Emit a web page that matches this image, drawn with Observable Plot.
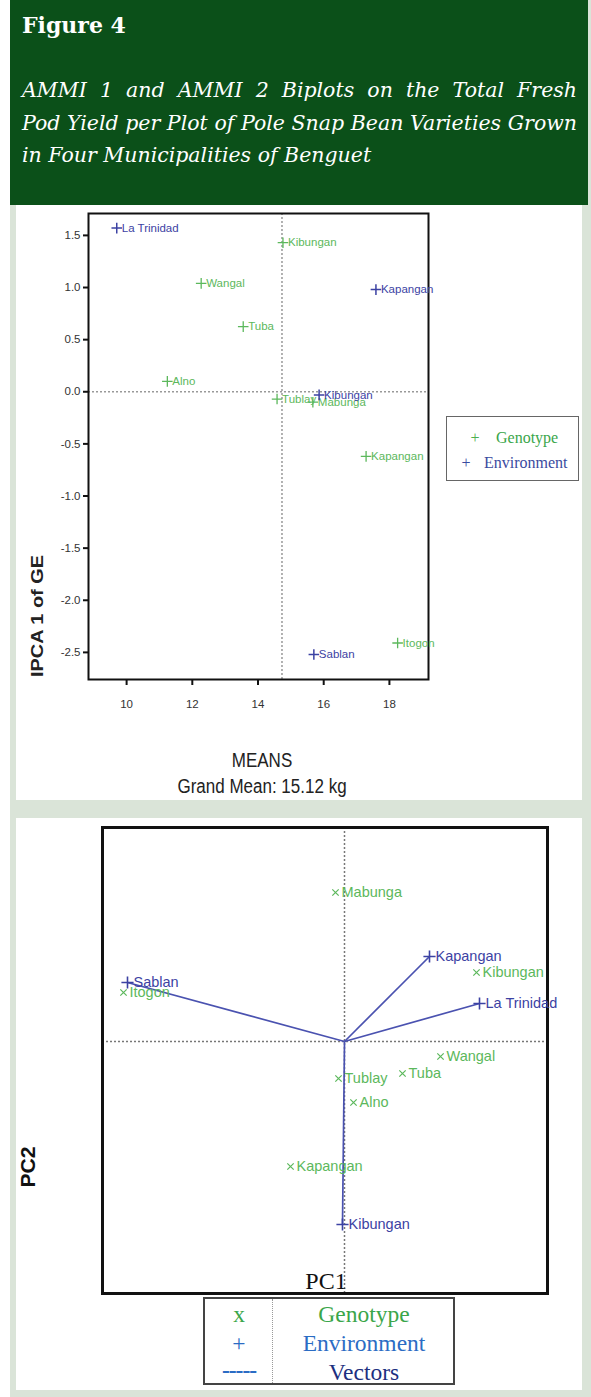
<!DOCTYPE html>
<html><head><meta charset="utf-8">
<script src="https://cdn.jsdelivr.net/npm/d3@7"></script>
<script src="https://cdn.jsdelivr.net/npm/@observablehq/plot@0.6"></script>
<style>
body{margin:0;background:#fff;}
#page{position:relative;width:591px;height:1397px;overflow:hidden;background:#fff;}
.abs{position:absolute;}
.jl{text-align:justify;text-align-last:justify;white-space:nowrap;}
.sans{font-family:'Liberation Sans',Arial,sans-serif;}
.serif{font-family:'Liberation Serif','Times New Roman',serif;}
</style></head><body>
<div id="page">
  <div class="abs" style="left:10px;top:0;width:581px;height:1397px;background:#dae4d8"></div>
  <div class="abs" style="left:10px;top:0;width:578px;height:205px;background:#0b5019;color:#fff;">
    <div class="abs" style="left:12px;top:12px;font:bold 22px 'DejaVu Serif',serif;">Figure 4</div>
    <div class="abs" style="left:12px;top:74px;width:555px;font:italic 20.5px/32.5px 'DejaVu Serif',serif;">
      <div class="jl">AMMI 1 and AMMI 2 Biplots on the Total Fresh</div>
      <div class="jl">Pod Yield per Plot of Pole Snap Bean Varieties Grown</div>
      <div style="white-space:nowrap">in Four Municipalities of Benguet</div>
    </div>
  </div>
  <div class="abs" id="p1" style="left:16px;top:205px;width:566px;height:595px;background:#fff"></div>
  <div class="abs" id="p2" style="left:16px;top:818px;width:566px;height:572px;background:#fff"></div>

  <svg class="abs" style="left:17px;top:541px;overflow:visible" width="40" height="150">
    <text x="20" y="75" transform="rotate(-90 20 75)" text-anchor="middle" dominant-baseline="central"
      textLength="122" lengthAdjust="spacingAndGlyphs"
      style="font-family:'Liberation Sans',Arial,sans-serif;font-size:16px;font-weight:600;fill:#222">IPCA 1 of GE</text>
  </svg>
  <div class="abs sans" style="left:262px;top:760px;transform:translate(-50%,-50%) scaleX(0.85);font-size:20px;color:#222;white-space:nowrap;">MEANS</div>
  <div class="abs sans" style="left:262px;top:786px;transform:translate(-50%,-50%) scaleX(0.85);font-size:20px;color:#222;white-space:nowrap;">Grand Mean: 15.12 kg</div>

  <div class="abs serif" style="left:446px;top:416px;width:131px;height:63px;border:1.5px solid #666;background:#fff;font-size:16px;">
    <div class="abs" style="left:28px;top:21px;transform:translate(-50%,-50%);color:#4caf50;">+</div>
    <div class="abs" style="left:49px;top:21px;transform:translateY(-50%);color:#3aa64a;">Genotype</div>
    <div class="abs" style="left:19px;top:46px;transform:translate(-50%,-50%);color:#3a4aa0;">+</div>
    <div class="abs" style="left:37px;top:46px;transform:translateY(-50%);color:#3a4aa0;">Environment</div>
  </div>

  <svg class="abs" style="left:7px;top:1092px;overflow:visible" width="40" height="150">
    <text x="20" y="75" transform="rotate(-90 20 75)" text-anchor="middle" dominant-baseline="central"
      textLength="41" lengthAdjust="spacingAndGlyphs"
      style="font-family:'Liberation Sans',Arial,sans-serif;font-size:21px;font-weight:600;fill:#111">PC2</text>
  </svg>
  <div class="abs serif" style="left:326px;top:1281px;transform:translate(-50%,-50%);font-size:24px;color:#111;white-space:nowrap;">PC1</div>

  <div class="abs serif" style="left:203px;top:1297px;width:248px;height:84px;border:2px solid #444;background:#fff;font-size:23.5px;">
    <div class="abs" style="left:67px;top:0;height:84px;border-left:1px dotted #999;"></div>
    <div class="abs" style="left:34px;top:15px;transform:translate(-50%,-50%);color:#3aa64a;">x</div>
    <div class="abs" style="left:159px;top:15px;transform:translate(-50%,-50%);color:#3aa64a;white-space:nowrap;">Genotype</div>
    <div class="abs" style="left:34px;top:44px;transform:translate(-50%,-50%);color:#2b6cc4;">+</div>
    <div class="abs" style="left:159px;top:44px;transform:translate(-50%,-50%);color:#2b6cc4;white-space:nowrap;">Environment</div>
    <div class="abs" style="left:34px;top:71px;transform:translate(-50%,-50%);color:#2b6cc4;font-weight:bold;letter-spacing:-1px;">-----</div>
    <div class="abs" style="left:159px;top:73px;transform:translate(-50%,-50%);color:#1d2f80;white-space:nowrap;">Vectors</div>
  </div>
</div>
<script>
// ---------- AMMI 1 biplot (means vs IPCA1) ----------
const ammi1Genotypes = ["Kibungan","Wangal","Tuba","Alno","Tublay","Mabunga","Kapangan","Itogon"];
const ammi1GenMeans  = [14.76, 12.27, 13.55, 11.24, 14.58, 15.67, 17.29, 18.25];
const ammi1GenIPCA1  = [1.43, 1.04, 0.625, 0.10, -0.07, -0.10, -0.62, -2.41];
const ammi1Envs      = ["La Trinidad","Kapangan","Kibungan","Sablan"];
const ammi1EnvMeans  = [9.70, 17.59, 15.86, 15.70];
const ammi1EnvIPCA1  = [1.57, 0.98, -0.03, -2.52];
const ammi1MeanLine  = [14.73];
const ammi1XTicks    = [10, 12, 14, 16, 18];
const ammi1YTicks    = [-2.5, -2.0, -1.5, -1.0, -0.5, 0.0, 0.5, 1.0, 1.5];

// ---------- AMMI 2 biplot (PC1 vs PC2) ----------
const ammi2Genotypes = ["Itogon","Mabunga","Kibungan","Wangal","Tuba","Tublay","Alno","Kapangan"];
const ammi2GenPC1    = [-2.21, -0.09, 1.32, 0.96, 0.58, -0.06, 0.09, -0.54];
const ammi2GenPC2    = [0.49, 1.49, 0.69, -0.15, -0.32, -0.37, -0.61, -1.25];
const ammi2Envs      = ["Sablan","Kapangan","La Trinidad","Kibungan"];
const ammi2EnvPC1    = [-2.17, 0.85, 1.35, -0.02];
const ammi2EnvPC2    = [0.59, 0.85, 0.38, -1.83];

const green = "#5cb85c", blue = "#3c42a3";
const font = "'Liberation Sans', Arial, sans-serif";

const g1 = ammi1Genotypes.map((n,i)=>({name:n, x:ammi1GenMeans[i], y:ammi1GenIPCA1[i]}));
const e1 = ammi1Envs.map((n,i)=>({name:n, x:ammi1EnvMeans[i], y:ammi1EnvIPCA1[i]}));
const g2 = ammi2Genotypes.map((n,i)=>({name:n, x:ammi2GenPC1[i], y:ammi2GenPC2[i]}));
const e2 = ammi2Envs.map((n,i)=>({name:n, x:ammi2EnvPC1[i], y:ammi2EnvPC2[i]}));

const p1 = Plot.plot({
  width:566, height:595, marginLeft:72, marginRight:154, marginTop:8, marginBottom:121,
  x:{domain:[8.84,19.19]}, y:{domain:[-2.76,1.71]},
  style:{background:"transparent", fontFamily:font, overflow:"visible"},
  marks:[
    Plot.ruleX(ammi1MeanLine, {stroke:"#999", strokeDasharray:"2,2", strokeWidth:1.5}),
    Plot.ruleY([0], {stroke:"#999", strokeDasharray:"2,2", strokeWidth:1.5}),
    Plot.axisX({ticks:ammi1XTicks, tickSize:6, tickPadding:14, fontSize:11.5, label:null, strokeWidth:2, stroke:"#111", fill:"#333"}),
    Plot.axisY({ticks:ammi1YTicks, tickSize:5, tickPadding:3, tickFormat:d=>d.toFixed(1), fontSize:11.5, label:null, strokeWidth:2, stroke:"#111", fill:"#333"}),
    Plot.frame({stroke:"#111", strokeWidth:2}),
    Plot.dot(g1, {x:"x", y:"y", symbol:"plus", r:3.5, stroke:green, strokeWidth:1.3}),
    Plot.text(g1, {x:"x", y:"y", text:"name", dx:5, textAnchor:"start", fill:green, fontSize:11.5}),
    Plot.dot(e1, {x:"x", y:"y", symbol:"plus", r:3.5, stroke:blue, strokeWidth:1.5}),
    Plot.text(e1, {x:"x", y:"y", text:"name", dx:5, textAnchor:"start", fill:blue, fontSize:11.5})
  ]
});
document.getElementById("p1").appendChild(p1);

const p2 = Plot.plot({
  width:566, height:572, marginLeft:86, marginRight:35, marginTop:9, marginBottom:97,
  x:{domain:[-2.42,2.03], axis:null}, y:{domain:[-2.52,2.14], axis:null},
  style:{background:"transparent", fontFamily:font, overflow:"visible"},
  marks:[
    Plot.ruleX([0], {stroke:"#777", strokeDasharray:"2,2", strokeWidth:1.5}),
    Plot.ruleY([0], {stroke:"#777", strokeDasharray:"2,2", strokeWidth:1.5}),
    Plot.link(e2, {x1:d=>0, y1:d=>0, x2:"x", y2:"y", stroke:"#4a52b0", strokeWidth:1.7}),
    Plot.frame({stroke:"#111", strokeWidth:3}),
    Plot.dot(g2, {x:"x", y:"y", symbol:"times", r:3, stroke:green, strokeWidth:1.2}),
    Plot.text(g2, {x:"x", y:"y", text:"name", dx:6, textAnchor:"start", fill:green, fontSize:14.5}),
    Plot.dot(e2, {x:"x", y:"y", symbol:"plus", r:4, stroke:blue, strokeWidth:1.6}),
    Plot.text(e2, {x:"x", y:"y", text:"name", dx:6, textAnchor:"start", fill:blue, fontSize:14.5})
  ]
});
document.getElementById("p2").appendChild(p2);
</script>
</body></html>
